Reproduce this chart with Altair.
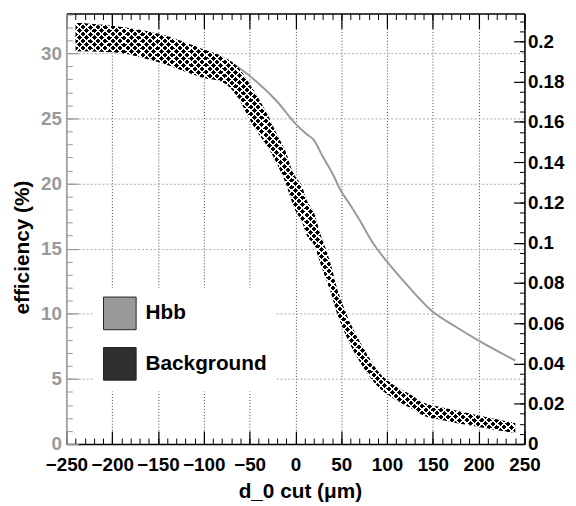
import altair as alt
import pandas as pd

# ---- data ----
hbb_x = [-240, -200, -150, -100, -85, -63, -42, -20, 0, 12, 20, 30, 41, 50, 59, 70, 85, 100, 117, 150, 175, 200, 240]
hbb_eff = [31.3, 30.9, 30.4, 29.95, 29.8, 28.95, 27.8, 26.3, 24.6, 23.8, 23.35, 22.05, 20.7, 19.4, 18.45, 17.2, 15.4, 14.0, 12.6, 10.15, 9.0, 7.93, 6.41]

bkg_x = [-240, -200, -150, -100, -80, -60, -50, -40, -30, -20, -10, -5, 0, 7, 12, 21, 27, 34, 40, 44, 50, 61, 75, 90, 107, 126, 142, 153, 200, 240]
bkg_eff = [0.2022, 0.2012, 0.1968, 0.1889, 0.1862, 0.1779, 0.1700, 0.1627, 0.1553, 0.1464, 0.1366, 0.1297, 0.1243, 0.1194, 0.1127, 0.1061, 0.0973, 0.0885, 0.0801, 0.0732, 0.0654, 0.0537, 0.0423, 0.0324, 0.0260, 0.0211, 0.0169, 0.0157, 0.0113, 0.0079]
bkg_err = [0.0071, 0.0066, 0.0071, 0.0071, 0.0064, 0.0079, 0.0088, 0.0088, 0.0079, 0.0074, 0.0079, 0.0079, 0.0084, 0.0088, 0.0088, 0.0079, 0.0074, 0.0074, 0.0069, 0.0064, 0.0059, 0.0054, 0.0049, 0.0039, 0.0034, 0.0034, 0.0032, 0.0032, 0.0029, 0.0025]

series_names = ["Hbb", "Background"]
x_major = list(range(-250, 251, 50))
x_minor = list(range(-250, 251, 10))
yl_major = [0, 5, 10, 15, 20, 25, 30]
yl_minor = list(range(0, 34))
yr_major = [0, 0.02, 0.04, 0.06, 0.08, 0.1, 0.12, 0.14, 0.16, 0.18, 0.2]
yr_minor = [round(0.005 * i, 3) for i in range(43)]

X_DOM = [-250, 250]
YL_DOM = [0, 33.05]
YR_DOM = [0, 0.2138]

df_hbb = pd.DataFrame({"x": hbb_x, "eff": hbb_eff})
df_bkg = pd.DataFrame({"x": bkg_x, "eff": bkg_eff, "err": bkg_err})
df_leg = pd.DataFrame({"series": series_names})

FONT = "Liberation Sans"
GRAY = "#999999"


def stripes(c_line, c_bg, n, frac, x1, y1, x2, y2):
    stops = []
    for i in range(n):
        a = i / n
        b = (i + frac) / n
        c = (i + 1) / n
        stops += [
            alt.GradientStop(color=c_line, offset=a),
            alt.GradientStop(color=c_line, offset=b),
            alt.GradientStop(color=c_bg, offset=b),
            alt.GradientStop(color=c_bg, offset=c),
        ]
    return alt.LinearGradient(gradient="linear", stops=stops, x1=x1, y1=y1, x2=x2, y2=y2)


grad1 = stripes("#ffffff", "#000000", 118, 0.3, 0, 0, 1, 1)
grad2 = stripes("#ffffff", "rgba(255,255,255,0)", 118, 0.3, 1, 0, 0, 1)

xs = alt.Scale(domain=X_DOM, nice=False, zero=False)
yls = alt.Scale(domain=YL_DOM, nice=False, zero=False)
yrs = alt.Scale(domain=YR_DOM, nice=False, zero=False)

# --- Hbb line with bottom / left major axes ---
hbb = alt.Chart(df_hbb).mark_line(color=GRAY, strokeWidth=2, interpolate="monotone").encode(
    x=alt.X("x:Q", scale=xs, axis=alt.Axis(
        orient="bottom", values=x_major, tickSize={"expr": "-13"}, tickColor="black", tickWidth=1.2,
        domainColor="black", domainWidth=1.5, labelFont=FONT, labelFontWeight="bold", labelFontSize=19,
        labelColor="black", labelPadding=25, labelFlush=False, labelOverlap=False,
        grid=True, gridColor="#444444", gridDash=[1, 2], gridWidth=1,
        title="d_0 cut (μm)", titleFont=FONT, titleFontSize=21, titleFontWeight="bold", titleColor="black",
        titleX=236, titleY=54, titleBaseline="alphabetic", titleAlign="center")),
    y=alt.Y("eff:Q", scale=yls, axis=alt.Axis(
        orient="left", values=yl_major, tickSize={"expr": "-12"}, tickColor=GRAY, tickWidth=1.2,
        domainColor=GRAY, domainWidth=1.5, labelFont=FONT, labelFontWeight="bold", labelFontSize=19,
        labelColor=GRAY, labelPadding=17, labelFlush=False,
        grid=True, gridColor="#aaaaaa", gridDash=[2, 2], gridWidth=1,
        title="efficiency (%)", titleFont=FONT, titleFontSize=21, titleFontWeight="bold", titleColor="black",
        titleX=-38, titleY=236, titleAngle=270, titleBaseline="alphabetic", titleAlign="center")),
)

# --- Background band (crosshatched) with top / right major axes ---
band_base = alt.Chart(df_bkg).transform_calculate(
    lo="datum.eff - datum.err", hi="datum.eff + datum.err"
)
band1 = band_base.mark_area(color=grad1, interpolate="monotone", strokeWidth=0).encode(
    x=alt.X("x:Q", scale=xs, axis=alt.Axis(
        orient="top", values=x_major, tickSize={"expr": "-15"}, tickColor="black", tickWidth=1.2,
        domainColor="black", domainWidth=1.5, labels=False, grid=False, title=None)),
    y=alt.Y("lo:Q", scale=yrs, axis=alt.Axis(
        orient="right", values=yr_major, format="~g", tickSize={"expr": "-11"}, tickColor="black",
        tickWidth=1.2, domainColor="black", domainWidth=1.5, labelFont=FONT, labelFontWeight="bold",
        labelFontSize=19, labelColor="black", labelPadding=14, labelFlush=False, grid=False, title=None)),
    y2="hi:Q",
)
band2 = band_base.mark_area(color=grad2, interpolate="monotone", strokeWidth=0).encode(
    x=alt.X("x:Q", scale=xs, axis=None),
    y=alt.Y("lo:Q", scale=yrs, axis=None),
    y2="hi:Q",
)

# --- minor tick axes ---
minor_l = alt.Chart(df_hbb).mark_line(opacity=0).encode(
    x=alt.X("x:Q", scale=xs, axis=alt.Axis(
        orient="bottom", values=x_minor, tickSize={"expr": "-6"}, tickColor="black", tickWidth=1,
        labels=False, domain=False, grid=False, title=None)),
    y=alt.Y("eff:Q", scale=yls, axis=alt.Axis(
        orient="left", values=yl_minor, tickSize={"expr": "-6"}, tickColor=GRAY, tickWidth=1,
        labels=False, domain=False, grid=False, title=None)),
)
minor_r = alt.Chart(df_bkg).mark_line(opacity=0).encode(
    x=alt.X("x:Q", scale=xs, axis=alt.Axis(
        orient="top", values=x_minor, tickSize={"expr": "-6"}, tickColor="black", tickWidth=1,
        labels=False, domain=False, grid=False, title=None)),
    y=alt.Y("eff:Q", scale=yrs, axis=alt.Axis(
        orient="right", values=yr_minor, tickSize={"expr": "-5"}, tickColor="black", tickWidth=1,
        labels=False, domain=False, grid=False, title=None)),
)

# --- legend ---
legend = alt.Chart(df_leg).transform_filter("false").mark_square(filled=True, opacity=1).encode(
    color=alt.Color("series:N", scale=alt.Scale(domain=series_names, range=[GRAY, "#303030"]),
                    legend=alt.Legend(
                        orient="none", legendX=28, legendY=277, title=None, symbolType="square",
                        symbolSize=1089, symbolStrokeColor="#222222", symbolStrokeWidth=1,
                        symbolOpacity=1, labelFont=FONT, labelFontSize=21, labelFontWeight="bold",
                        labelColor="black", labelOffset=9, rowPadding=13, padding=9,
                        fillColor="white")),
)

chart = alt.layer(hbb, band1, band2, minor_l, minor_r, legend).resolve_scale(
    y="independent"
).resolve_axis(
    x="independent", y="independent"
).properties(
    width=463, height=435,
    padding={"left": 59, "top": 3, "right": 44, "bottom": 58},
    autosize=alt.AutoSizeParams(type="none"),
).configure_view(stroke=None)

chart.save("out.html", embed_options={"renderer": "svg", "actions": False})
